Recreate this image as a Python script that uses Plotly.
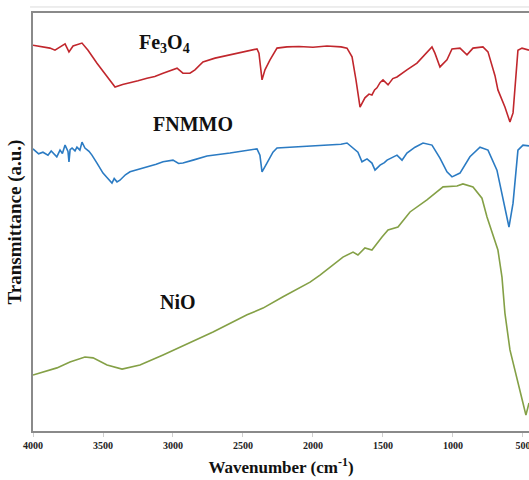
import plotly.graph_objects as go

# FTIR spectra: wavenumber (cm-1) and transmittance (a.u., offset for stacking)
fe3o4_wn = [4000, 3879, 3843, 3771, 3743, 3714, 3650, 3607, 3543, 3471, 3414, 3360, 3307,
            3250, 3186, 3130, 3071, 2971, 2929, 2879, 2843, 2786, 2700, 2593, 2500, 2400,
            2386, 2364, 2343, 2307, 2257, 2186, 2100, 2000, 1900, 1800, 1757, 1721, 1693,
            1664, 1629, 1600, 1579, 1560, 1543, 1520, 1500, 1464, 1430, 1400, 1329, 1257,
            1150, 1129, 1093, 1043, 1007, 950, 900, 857, 786, 750, 700, 679, 629, 593,
            571, 536, 507, 457]
fe3o4_t = [92.3, 91.6, 91.1, 92.6, 90.7, 92.1, 92.8, 91.1, 88.0, 84.7, 82.3, 82.9, 83.3,
           83.8, 84.4, 84.8, 85.6, 86.8, 85.6, 85.6, 86.4, 88.3, 89.2, 90.0, 90.6, 91.4,
           90.4, 84.0, 86.4, 88.8, 91.6, 91.9, 92.0, 91.8, 92.1, 91.9, 91.6, 89.5, 84.0,
           77.5, 79.7, 80.6, 80.4, 81.6, 82.1, 83.4, 84.0, 82.8, 84.3, 84.7, 86.4, 88.0,
           91.9, 90.4, 87.1, 88.8, 91.4, 91.6, 90.0, 91.6, 91.9, 90.7, 85.0, 81.6, 77.5,
           73.9, 76.1, 91.1, 91.6, 91.1]

fnmmo_wn = [4000, 3960, 3929, 3893, 3870, 3857, 3830, 3807, 3790, 3771, 3750, 3743, 3735,
            3721, 3700, 3686, 3665, 3650, 3629, 3600, 3579, 3543, 3500, 3470, 3450, 3436,
            3420, 3400, 3379, 3340, 3307, 3250, 3186, 3120, 3071, 3000, 2960, 2929, 2857,
            2757, 2593, 2400, 2379, 2364, 2329, 2286, 2257, 1950, 1800, 1757, 1721, 1679,
            1650, 1614, 1579, 1557, 1521, 1490, 1471, 1430, 1400, 1364, 1329, 1271, 1214,
            1150, 1093, 1043, 1007, 950, 879, 807, 750, 686, 643, 600, 571, 536, 500, 457]
fnmmo_t = [67.5, 66.3, 66.7, 66.0, 67.0, 66.5, 65.6, 67.2, 66.4, 68.4, 66.9, 64.4, 67.3,
           67.7, 67.0, 67.9, 67.2, 69.1, 67.7, 66.9, 66.0, 64.1, 61.7, 60.6, 59.8, 59.3,
           60.4, 59.6, 60.0, 61.3, 62.0, 62.5, 63.2, 63.8, 64.4, 64.8, 64.0, 64.1, 64.8,
           65.8, 66.5, 67.5, 66.0, 62.0, 64.1, 66.7, 67.7, 68.4, 68.6, 68.9, 67.9, 66.7,
           64.4, 65.1, 64.1, 62.4, 63.6, 64.2, 64.8, 65.4, 66.0, 64.8, 66.5, 67.9, 68.9,
           68.4, 65.3, 62.0, 60.8, 61.7, 65.6, 67.9, 67.2, 62.4, 56.0, 48.8, 54.5, 67.2,
           68.4, 68.2]

nio_wn = [4000, 3900, 3829, 3736, 3629, 3571, 3471, 3364, 3236, 3071, 2950, 2714, 2471,
          2357, 2214, 2093, 2021, 1950, 1786, 1714, 1679, 1629, 1579, 1507, 1464, 1393,
          1307, 1186, 1071, 971, 929, 857, 793, 757, 721, 679, 650, 629, 593, 543, 500,
          479, 457]
nio_t = [13.4, 14.3, 15.1, 16.5, 17.7, 17.5, 15.8, 14.8, 15.8, 18.2, 20.1, 23.7, 27.8,
         29.4, 32.1, 34.4, 35.6, 37.3, 41.6, 42.8, 42.1, 43.8, 43.3, 46.4, 48.1, 48.8,
         52.4, 55.3, 58.4, 58.6, 59.1, 58.4, 55.7, 51.2, 47.4, 43.3, 36.8, 28.2, 19.4,
         12.9, 6.7, 3.8, 6.7]

x_ticks = [4000, 3500, 3000, 2500, 2000, 1500, 1000, 500]

SERIF = "Liberation Serif, Times New Roman, serif"

fig = go.Figure()
fig.add_trace(go.Scatter(x=fe3o4_wn, y=fe3o4_t, mode="lines", name="Fe3O4",
                         line=dict(color="#c1272d", width=1.6)))
fig.add_trace(go.Scatter(x=fnmmo_wn, y=fnmmo_t, mode="lines", name="FNMMO",
                         line=dict(color="#2b7bc3", width=1.6)))
fig.add_trace(go.Scatter(x=nio_wn, y=nio_t, mode="lines", name="NiO",
                         line=dict(color="#84a046", width=1.6)))

label_font = dict(family=SERIF, size=20, color="#111111", weight="bold")
fig.add_annotation(x=3064, y=92.8, text="Fe<sub>3</sub>O<sub>4</sub>", showarrow=False,
                   font=label_font)
fig.add_annotation(x=2857, y=73.4, text="FNMMO", showarrow=False, font=label_font)
fig.add_annotation(x=2964, y=30.9, text="NiO", showarrow=False, font=label_font)

# faint outer frame line above the plot
fig.add_shape(type="line", xref="paper", yref="paper", x0=-0.006, x1=1, y0=1.0144, y1=1.0144,
              line=dict(color="#dcdcdc", width=1))

fig.update_layout(
    width=529, height=480,
    margin=dict(l=33, r=0, t=13, b=49),
    paper_bgcolor="white", plot_bgcolor="white",
    showlegend=False,
    xaxis=dict(
        range=[4000, 457], tickvals=x_ticks, ticktext=[str(v) for v in x_ticks],
        showgrid=False, zeroline=False,
        showline=True, linecolor="#8a8a8a", linewidth=1.5, mirror=True,
        ticks="outside", ticklen=4, tickcolor="#cfcfcf",
        ticklabeloverflow="allow",
        tickfont=dict(family=SERIF, size=10, color="#222222", weight="bold"),
        title=dict(text="Wavenumber (cm<sup>-1</sup>)", standoff=11,
                   font=dict(family=SERIF, size=17, color="#111111", weight="bold")),
    ),
    yaxis=dict(
        range=[0, 100], showticklabels=False, ticks="", showgrid=False, zeroline=False,
        showline=True, linecolor="#8a8a8a", linewidth=1.5,
        title=dict(text="Transmittance (a.u.)", standoff=5,
                   font=dict(family=SERIF, size=19, color="#111111", weight="bold")),
    ),
)

fig.write_html("out.html")
